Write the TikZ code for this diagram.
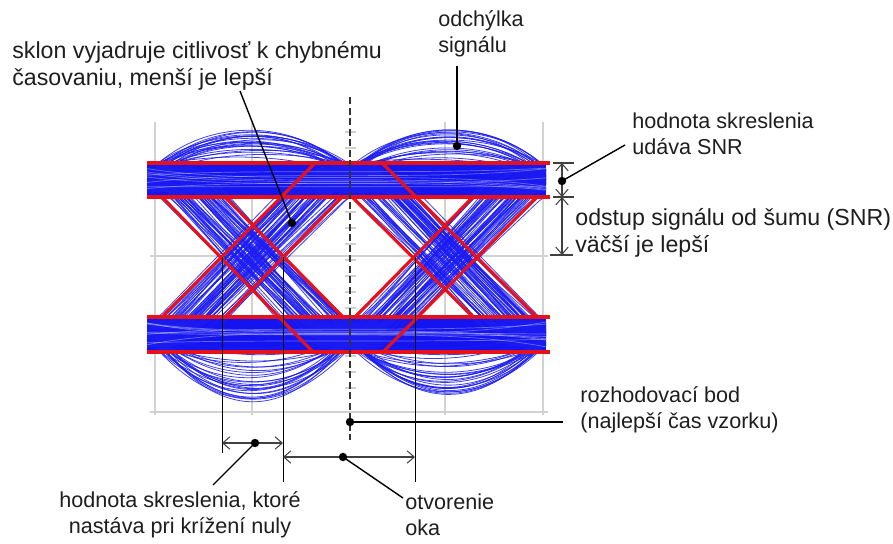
\documentclass[tikz,border=0pt]{standalone}
\usepackage{fontspec}
\setmainfont{Liberation Sans}
\usepackage{xcolor}
\definecolor{eyeTrace}{HTML}{1C1CF2}
\definecolor{eyeBand}{HTML}{1414F0}
\definecolor{eyeMask}{HTML}{E5121C}
\definecolor{eyeGrid}{HTML}{D2D2D2}
\definecolor{eyeNote}{HTML}{1E1E1E}
\usetikzlibrary{arrows.meta}

\begin{document}
\begin{tikzpicture}[x=0.02cm, y=-0.02cm,
  gridline/.style={draw=eyeGrid, line width=0.6pt},
  trace/.style={draw=eyeTrace, line width=0.45pt, opacity=0.85},
  streak/.style={draw=white, line width=0.4pt, opacity=0.35},
  eyemask/.style={draw=eyeMask, line width=1.8pt},
  leader/.style={draw=black, line width=0.8pt},
  crossline/.style={draw=black, line width=0.5pt},
  dimtick/.style={draw=black!75, line width=0.6pt},
  dimarrow/.style={draw=black!75, line width=0.6pt,
    {Straight Barb[length=4pt,width=7pt]}-{Straight Barb[length=4pt,width=7pt]}},
  note/.style={font=\fontsize{12.3}{14.5}\selectfont, text=eyeNote,
    inner sep=0pt, align=left, anchor=west},
  bignote/.style={note, font=\fontsize{13.2}{15}\selectfont}]
  \useasboundingbox (0,0) rectangle (893,544);

  % grid
  \foreach \gx in {155,252,445,543}
    \draw[gridline] (\gx,122) -- (\gx,415);
  \foreach \gy in {256,412}
    \draw[gridline] (150,\gy) -- (548,\gy);
  \foreach \ty in {132,148,...,400}
    \draw[gridline] (345,\ty) -- (356,\ty);

  % bands
  \fill[eyeBand] (147,165) rectangle (546,196);
  \fill[eyeBand] (147,318) rectangle (546,351);

  % traces
  \pgfmathsetseed{42}
  \begin{scope}
    \clip (147,100) rectangle (546,420);
    \foreach \c/\hh/\hl in {253/56/84,446/58/76} {
      \foreach \k in {1,...,26} {
        \pgfmathsetmacro\jitA{16*rnd-8}
        \pgfmathsetmacro\jitB{16*rnd-8}
        \pgfmathsetmacro\humpHi{172-\hh*sqrt(\k/26)+4*rnd}
        \pgfmathsetmacro\humpLo{340+\hl*sqrt(\k/26)-4*rnd}
        \draw[trace] (\c-97,172+\jitA) .. controls (\c-45,\humpHi) and (\c+45,\humpHi) .. (\c+97,172+\jitB);
        \draw[trace] (\c-97,340+\jitB) .. controls (\c-35,\humpLo) and (\c+35,\humpLo) .. (\c+97,340+\jitA);
      }
      \foreach \k in {1,...,60} {
        \pgfmathsetmacro\skewA{56*rnd-28}
        \pgfmathsetmacro\skewB{56*rnd-28}
        \pgfmathsetmacro\jitA{24*rnd-12}
        \pgfmathsetmacro\jitB{24*rnd-12}
        \pgfmathsetmacro\jitC{24*rnd-12}
        \pgfmathsetmacro\jitD{24*rnd-12}
        \draw[trace, rounded corners=0.3cm] (\c-130,180+\jitA) -- (\c+\skewA-75,180+\jitA)
          -- (\c+\skewA+75,335+\jitB) -- (\c+130,335+\jitB);
        \draw[trace, rounded corners=0.3cm] (\c-130,335+\jitC) -- (\c+\skewB-75,335+\jitC)
          -- (\c+\skewB+75,180+\jitD) -- (\c+130,180+\jitD);
      }
    }
    \foreach \k in {1,...,8} {
      \pgfmathsetmacro\jitA{26*rnd+168}
      \pgfmathsetmacro\jitB{26*rnd+168}
      \pgfmathsetmacro\jitC{26*rnd+321}
      \pgfmathsetmacro\jitD{26*rnd+321}
      \draw[streak] (147,\jitA) .. controls (260,\jitB) and (420,\jitA) .. (546,\jitB);
      \draw[streak] (147,\jitC) .. controls (260,\jitD) and (420,\jitC) .. (546,\jitD);
    }
  \end{scope}

  % mask
  \foreach \my in {163,197,317,352}
    \draw[eyemask] (147,\my) -- (550,\my);
  \draw[eyemask] (162,197) -- (313,352);
  \draw[eyemask] (225,197) -- (343,317);
  \draw[eyemask] (162,317) -- (315,163);
  \draw[eyemask] (225,317) -- (342,197);
  \draw[eyemask] (382,163) -- (537,317);
  \draw[eyemask] (352,197) -- (473,317);
  \draw[eyemask] (355,317) -- (473,197);
  \draw[eyemask] (383,352) -- (537,197);

  % sampling instant
  \draw[black!80, line width=0.7pt, dash pattern=on 4pt off 2pt] (350,97) -- (350,440);

  \coordinate (crossA) at (222,257);
  \coordinate (crossB) at (283,257);
  \coordinate (crossC) at (415,257);
  \draw[crossline] (crossA) -- (222,453);
  \draw[crossline] (crossB) -- (283,482);
  \draw[crossline] (crossC) -- (415,482);

  % slope
  \node[bignote] (slopeTxt) at (12,66) {sklon vyjadruje citlivosť k chybnému\\časovaniu, menší je lepší};
  \coordinate (slopeEnd) at (240,91);
  \coordinate (slopeDot) at (292,223);
  \draw[leader] (slopeEnd) -- (slopeDot);
  \fill (slopeDot) circle (2.4pt);

  % deviation
  \node[note] (devTxt) at (438,34) {odchýlka\\signálu};
  \coordinate (devEnd) at (457,66);
  \coordinate (devDot) at (457,146);
  \draw[leader] (devEnd) -- (devDot);
  \fill (devDot) circle (2.4pt);

  % snr
  \draw[dimtick] (553,163) -- (574,163);
  \draw[dimtick] (553,197) -- (574,197);
  \draw[dimtick] (550,255) -- (573,255);
  \draw[dimarrow] (562,163) -- (562,197);
  \draw[dimarrow] (562,197) -- (562,255);
  \node[note] (snrTxt) at (632,134) {hodnota skreslenia\\udáva SNR};
  \coordinate (snrDot) at (562,181);
  \coordinate (snrEnd) at (625,145);
  \draw[leader] (snrDot) -- (snrEnd);
  \fill (snrDot) circle (2.4pt);
  \node[bignote] (gapTxt) at (575,233) {odstup signálu od šumu (SNR)\\väčší je lepší};

  % decision point
  \node[note] (decTxt) at (580,410) {rozhodovací bod\\(najlepší čas vzorku)};
  \coordinate (decDot) at (350,422);
  \coordinate (decEnd) at (563,422);
  \draw[leader] (decDot) -- (decEnd);
  \fill (decDot) circle (2.4pt);

  % jitter
  \coordinate (jitL) at (222,443);
  \coordinate (jitR) at (283,443);
  \draw[dimarrow] (jitL) -- (jitR);
  \coordinate (jitDot) at (255,443);
  \coordinate (jitEnd) at (213,485);
  \draw[leader] (jitDot) -- (jitEnd);
  \fill (jitDot) circle (2.4pt);
  \node[note, align=center, anchor=center] (jitTxt) at (180,515) {hodnota skreslenia, ktoré\\nastáva pri krížení nuly};

  % eye opening
  \coordinate (openL) at (283,457);
  \coordinate (openR) at (415,457);
  \draw[dimarrow] (openL) -- (openR);
  \coordinate (openDot) at (343,457);
  \coordinate (openEnd) at (403,498);
  \draw[leader] (openDot) -- (openEnd);
  \fill (openDot) circle (2.4pt);
  \node[note] (openTxt) at (405,515) {otvorenie\\oka};
\end{tikzpicture}
\end{document}
